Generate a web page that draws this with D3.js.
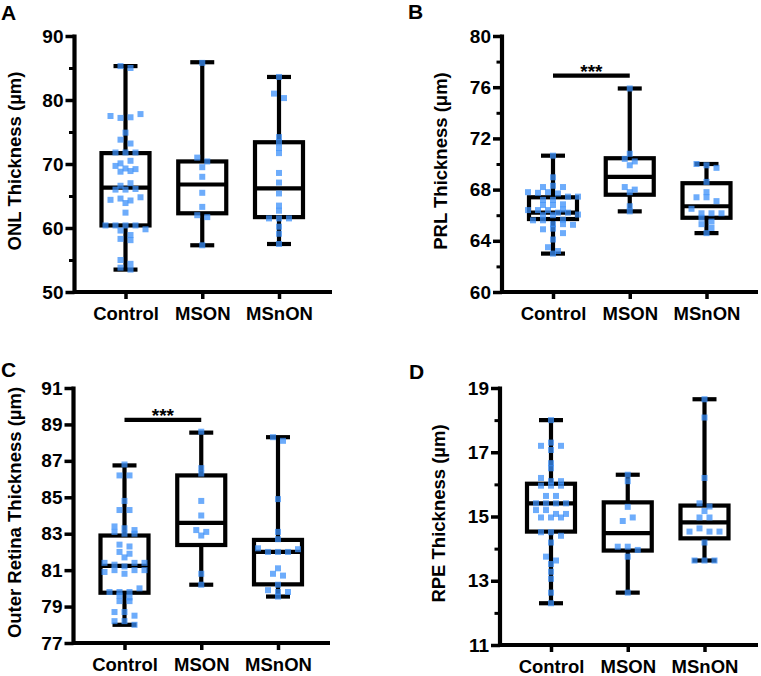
<!DOCTYPE html>
<html><head><meta charset="utf-8">
<script src="https://cdn.jsdelivr.net/npm/d3@7"></script>
<style>
body{margin:0;background:#fff}
svg{display:block}
text{font-family:"Liberation Sans",Arial,Helvetica,sans-serif;font-weight:bold;fill:#000}
</style>
</head><body>
<svg id="chart" width="761" height="676"></svg>
<script>
const categories = ["Control", "MSON", "MSnON"];

// ---- Panel A: ONL thickness ----
const onlTicks = [50, 60, 70, 80, 90];
const onlMinorTicks = [55, 65, 75, 85];
// [min, q1, median, q3, max] per category
const onlBox = [[53.5, 60.4, 66.3, 71.7, 85.3], [57.3, 62.3, 66.8, 70.4, 85.9], [57.5, 61.7, 66.2, 73.4, 83.6]];
const onlControl = [85.3, 85.0, 77.5, 77.2, 77.3, 77.8, 74.9, 73.8, 73.2, 71.8, 71.8, 71.8, 70.1, 70.5, 69.7, 69.3, 68.8, 69.2, 68.9, 66.0, 66.0, 66.6, 67.0, 66.1, 64.4, 64.6, 63.9, 64.3, 64.8, 62.4, 60.4, 60.4, 60.4, 60.4, 59.8, 59.6, 58.9, 58.3, 58.1, 55.0, 54.4, 53.8, 53.5];
const onlMSON = [85.8, 71.0, 70.4, 69.5, 68.0, 65.5, 63.3, 62.0, 61.7, 57.3];
const onlMSnON = [83.6, 81.0, 80.3, 74.2, 73.4, 72.5, 71.7, 68.6, 67.1, 65.4, 63.5, 62.7, 61.5, 61.5, 61.5, 60.2, 59.1, 57.5];

// ---- Panel B: PRL thickness ----
const prlTicks = [60, 64, 68, 72, 76, 80];
const prlMinorTicks = [62, 66, 70, 74, 78];
const prlBox = [[63.0, 65.7, 66.2, 67.4, 70.65], [66.3, 67.6, 69.0, 70.45, 75.9], [64.6, 65.8, 66.7, 68.5, 70.0]];
const prlControl = [70.65, 68.96, 68.2, 68.3, 68.2, 67.8, 67.75, 67.8, 67.7, 67.45, 67.45, 67.2, 67.2, 66.8, 66.8, 66.85, 66.4, 66.4, 66.45, 66.4, 66.2, 66.2, 66.0, 66.0, 66.05, 65.6, 65.6, 65.65, 65.3, 65.3, 65.25, 64.9, 64.95, 64.6, 64.1, 63.5, 63.2, 63.0];
const prlMSON = [75.9, 70.8, 70.4, 70.2, 69.9, 68.2, 68.0, 67.8, 66.7, 66.3];
const prlMSnON = [70.0, 69.9, 69.7, 68.6, 67.8, 67.4, 67.4, 67.1, 66.5, 66.15, 66.15, 66.15, 65.8, 65.5, 65.3, 65.0, 64.6];
const prlSignificance = ["Control", "MSON", 76.9, "***"];

// ---- Panel C: outer retina thickness ----
const orTicks = [77, 79, 81, 83, 85, 87, 89, 91];
const orMinorTicks = [];
const orBox = [[78.0, 79.76, 81.23, 82.9, 86.75], [80.2, 82.38, 83.6, 86.2, 88.55], [79.55, 80.22, 82.0, 82.66, 88.3]];
const orControl = [86.8, 86.2, 86.2, 84.8, 84.3, 84.3, 83.4, 83.1, 83.0, 83.3, 83.2, 83.0, 82.4, 82.3, 82.0, 81.7, 81.9, 81.4, 81.3, 81.2, 81.4, 81.4, 80.9, 81.0, 80.8, 81.0, 81.0, 79.8, 79.8, 79.8, 80.0, 79.6, 79.5, 79.3, 79.3, 78.7, 78.7, 78.5, 78.2, 78.2, 78.0];
const orMSON = [88.6, 86.6, 86.3, 84.8, 84.0, 83.2, 83.1, 82.9, 80.8, 80.2];
const orMSnON = [88.3, 88.1, 84.9, 83.1, 82.7, 82.2, 82.0, 82.0, 82.0, 82.15, 81.1, 80.8, 80.7, 80.2, 79.9, 79.8, 79.8, 79.55];
const orSignificance = ["Control", "MSON", 89.25, "***"];

// ---- Panel D: RPE thickness ----
const rpeTicks = [11, 13, 15, 17, 19];
const rpeMinorTicks = [12, 14, 16, 18];
const rpeBox = [[12.3, 14.53, 15.41, 16.02, 18.0], [12.63, 13.94, 14.48, 15.44, 16.3], [13.63, 14.32, 14.82, 15.34, 18.65]];
const rpeControl = [18.0, 17.2, 17.3, 17.2, 17.07, 16.66, 16.5, 16.2, 16.1, 16.1, 15.96, 15.96, 15.96, 15.64, 15.64, 15.41, 15.41, 15.41, 15.41, 15.2, 15.2, 15.08, 15.08, 14.97, 14.97, 14.97, 14.51, 14.51, 14.4, 14.19, 13.75, 13.63, 13.52, 13.28, 13.06, 12.63, 12.3];
const rpeMSON = [16.3, 16.1, 15.3, 14.86, 14.97, 14.06, 14.06, 13.96, 13.75, 12.63];
const rpeMSnON = [18.65, 18.08, 16.2, 15.41, 15.31, 15.17, 14.97, 14.97, 14.53, 14.63, 14.53, 14.53, 14.19, 13.63, 13.63, 13.63];

// ---------- layout / style (kept separate from data) ----------
const panels = [
  {letter: "A", title: "ONL Thickness (µm)", ticks: onlTicks, minor: onlMinorTicks, box: onlBox,
   points: [onlControl, onlMSON, onlMSnON], sig: null,
   axisX: 74.5, top: 36, bottom: 292, right: 332, titleX: 15, letterX: 1, letterY: 20},
  {letter: "B", title: "PRL Thickness (μm)", ticks: prlTicks, minor: prlMinorTicks, box: prlBox,
   points: [prlControl, prlMSON, prlMSnON], sig: prlSignificance,
   axisX: 502, top: 36, bottom: 292, right: 758, titleX: 441, letterX: 408, letterY: 19},
  {letter: "C", title: "Outer Retina Thickness (µm)", ticks: orTicks, minor: orMinorTicks, box: orBox,
   points: [orControl, orMSON, orMSnON], sig: orSignificance,
   axisX: 73.5, top: 388, bottom: 643, right: 330, titleX: 15, letterX: 1, letterY: 377},
  {letter: "D", title: "RPE Thickness (µm)", ticks: rpeTicks, minor: rpeMinorTicks, box: rpeBox,
   points: [rpeControl, rpeMSON, rpeMSnON], sig: null,
   axisX: 500, top: 388, bottom: 645, right: 758, titleX: 439, letterX: 409, letterY: 379}
];

const svg = d3.select("#chart");
const LW = 4.2;
const BOX_HALF = 24, CAP_HALF = 12;
const PT = 6, BIN = 5, SPACING = 10;
const PT_FILL = "rgba(60,144,249,0.75)";

function swarm(values, y, cx) {
  const pts = values.map((v, i) => ({v, i, py: y(v)}));
  const sorted = pts.slice().sort((a, b) => a.py - b.py);
  const bins = [];
  let cur = null;
  for (const p of sorted) {
    if (!cur || p.py - cur.start > BIN) { cur = {start: p.py, items: []}; bins.push(cur); }
    cur.items.push(p);
  }
  bins.forEach(b => {
    b.items.sort((a, c) => a.i - c.i);
    const k = b.items.length;
    b.items.forEach((p, j) => { p.px = cx + (j - (k - 1) / 2) * SPACING; });
  });
  return pts;
}

panels.forEach(P => {
  const g = svg.append("g");
  const dom = [P.ticks[0], P.ticks[P.ticks.length - 1]];
  const y = d3.scaleLinear().domain(dom).range([P.bottom, P.top]);
  const x = d3.scalePoint().domain(categories).range([P.axisX + 51, P.axisX + 204.5]);

  // minor ticks
  const minorAx = g.append("g").attr("transform", `translate(${P.axisX},0)`)
    .call(d3.axisLeft(y).tickValues(P.minor).tickSize(5.5).tickSizeOuter(0).tickFormat(""));
  minorAx.select(".domain").remove();
  minorAx.selectAll("line").attr("stroke", "#000").attr("stroke-width", 3);

  // major y axis
  const yAx = g.append("g").attr("transform", `translate(${P.axisX},0)`)
    .call(d3.axisLeft(y).tickValues(P.ticks).tickSize(9).tickSizeOuter(0).tickPadding(2));
  yAx.select(".domain").remove();
  yAx.selectAll("line").attr("stroke", "#000").attr("stroke-width", 3.5);
  yAx.selectAll("text").style("font-size", "19px").style("font-family", "'Liberation Sans',Arial,sans-serif").style("font-weight", "bold").attr("fill", "#000");

  // x axis
  const xAx = g.append("g").attr("transform", `translate(0,${P.bottom})`)
    .call(d3.axisBottom(x).tickSize(7).tickSizeOuter(0).tickPadding(8));
  xAx.select(".domain").remove();
  xAx.selectAll("line").attr("stroke", "#000").attr("stroke-width", 3.5);
  xAx.selectAll("text").style("font-size", "18.5px").style("font-family", "'Liberation Sans',Arial,sans-serif").style("font-weight", "bold").attr("fill", "#000");

  // axis lines
  g.append("path")
    .attr("d", `M${P.axisX},${y(dom[1]) - 1.5}V${P.bottom}H${P.right}`)
    .attr("fill", "none").attr("stroke", "#000").attr("stroke-width", LW).attr("stroke-linejoin", "miter");

  // boxes
  P.box.forEach((s, ci) => {
    const cx = x(categories[ci]);
    const [mn, q1, md, q3, mx] = s;
    const bg = g.append("g").attr("stroke", "#000").attr("stroke-width", LW).attr("fill", "none");
    bg.append("line").attr("x1", cx).attr("x2", cx).attr("y1", y(mx)).attr("y2", y(q3));
    bg.append("line").attr("x1", cx).attr("x2", cx).attr("y1", y(q1)).attr("y2", y(mn));
    bg.append("line").attr("x1", cx - CAP_HALF).attr("x2", cx + CAP_HALF).attr("y1", y(mx)).attr("y2", y(mx));
    bg.append("line").attr("x1", cx - CAP_HALF).attr("x2", cx + CAP_HALF).attr("y1", y(mn)).attr("y2", y(mn));
    bg.append("rect").attr("x", cx - BOX_HALF).attr("width", 2 * BOX_HALF)
      .attr("y", y(q3)).attr("height", y(q1) - y(q3)).attr("fill", "#fff");
    bg.append("line").attr("x1", cx - BOX_HALF).attr("x2", cx + BOX_HALF).attr("y1", y(md)).attr("y2", y(md));
  });

  // points
  P.points.forEach((vals, ci) => {
    const cx = x(categories[ci]);
    const pts = swarm(vals, y, cx);
    g.append("g").selectAll("rect").data(pts).join("rect")
      .attr("x", d => d.px - PT / 2).attr("y", d => d.py - PT / 2)
      .attr("width", PT).attr("height", PT).attr("fill", PT_FILL);
  });

  // significance
  if (P.sig) {
    const [a, b, v, lab] = P.sig;
    g.append("line").attr("x1", x(a)).attr("x2", x(b)).attr("y1", y(v)).attr("y2", y(v))
      .attr("stroke", "#000").attr("stroke-width", LW);
    g.append("text").attr("x", (x(a) + x(b)) / 2).attr("y", y(v) + 2)
      .attr("text-anchor", "middle").style("font-size", "19px").text(lab);
  }

  // y title
  const cy = (P.top + P.bottom) / 2 - 3;
  g.append("text").attr("transform", `translate(${P.titleX},${cy}) rotate(-90)`)
    .attr("text-anchor", "middle").attr("dy", "0.35em").style("font-size", "18.5px").text(P.title);

  // panel letter
  g.append("text").attr("x", P.letterX).attr("y", P.letterY).style("font-size", "21px").text(P.letter);
});
</script>
</body></html>
